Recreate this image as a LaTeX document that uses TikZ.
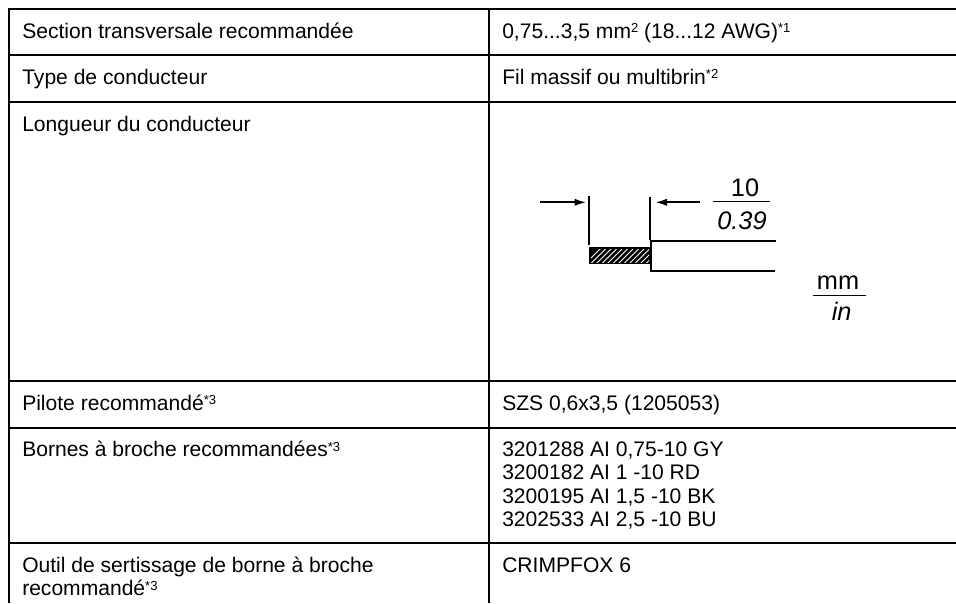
\documentclass[tikz,border=0pt]{standalone}
\usepackage{fontspec}
\setmainfont{Liberation Sans}
\usepackage{tikz}
\usetikzlibrary{arrows.meta,positioning}

\newcommand{\supr}[1]{\raisebox{4pt}{\fontsize{9.8pt}{10pt}\selectfont #1}}

\begin{document}
\begin{tikzpicture}[x=0.75pt,y=-0.75pt]
	\tikzstyle{Rule}	= [line width=1.5pt, black]
	\tikzstyle{Thin}	= [line width=0.75pt, black]
	\tikzstyle{Wire}	= [line width=1.5pt, black]
	\tikzstyle{Dim}		= [line width=1.5pt, black, -{Latex[length=9pt,width=5.5pt]}]
	\tikzstyle{Cell}	= [anchor=base west, inner sep=0pt, font=\fontsize{15.8pt}{17.55pt}\selectfont]
	\tikzstyle{Frac}	= [anchor=base, inner sep=0pt, font=\fontsize{19pt}{22pt}\selectfont]

	\useasboundingbox (0,0) rectangle (956,603);

	% table rules
	\draw [Rule] (7.7,9) -- (956,9);
	\draw [Rule] (7.7,55) -- (956,55);
	\draw [Rule] (7.7,101.7) -- (956,101.7);
	\draw [Rule] (7.7,380.7) -- (956,380.7);
	\draw [Rule] (7.7,427.7) -- (956,427.7);
	\draw [Rule] (7.7,542.7) -- (956,542.7);
	\draw [Rule] (8.5,8) -- (8.5,603);
	\draw [Rule] (488.7,8) -- (488.7,603);

	% left column
	\node (t1) at (22,38.3) [Cell] {Section transversale recommandée};
	\node (t2) at (22,84) [Cell] {Type de conducteur};
	\node (t3) at (22,131) [Cell] {Longueur du conducteur};
	\node (t4) at (22,410.3) [Cell] {Pilote recommandé\supr{*3}};
	\node (t5) at (22,456.5) [Cell] {Bornes à broche recommandées\supr{*3}};
	\node (t6) at (22,572) [Cell] {Outil de sertissage de borne à broche};
	\node (t7) at (22,595.4) [Cell] {recommandé\supr{*3}};

	% right column
	\node (v1) at (502,38.3) [Cell] {0,75...3,5 mm\supr{2} (18...12 AWG)\supr{*1}};
	\node (v2) at (502,84) [Cell] {Fil massif ou multibrin\supr{*2}};
	\node (v4) at (502,410.3) [Cell] {SZS 0,6x3,5 (1205053)};
	\node (v5) at (502,456.5) [Cell] {3201288 AI 0,75-10 GY};
	\node (v6) at (502,479.9) [Cell] {3200182 AI 1 -10 RD};
	\node (v7) at (502,503.3) [Cell] {3200195 AI 1,5 -10 BK};
	\node (v8) at (502,526.7) [Cell] {3202533 AI 2,5 -10 BU};
	\node (v9) at (502,572) [Cell] {CRIMPFOX 6};

	% stripped wire
	\coordinate (a1) at (540,202.3);
	\coordinate (a2) at (586.5,202.3);
	\coordinate (b1) at (700,202.3);
	\coordinate (b2) at (655,202.3);
	\coordinate (s1) at (588.7,196);
	\coordinate (s2) at (588.7,245);
	\coordinate (s3) at (650.3,197);
	\coordinate (s4) at (650.3,240);
	\coordinate (w1) at (776,240.7);
	\coordinate (w2) at (651,240.7);
	\coordinate (w3) at (651,270.7);
	\coordinate (w4) at (775,270.7);

	\fill [black] (589,247.3) rectangle (651,264);
	\begin{scope}
		\clip (591,249) rectangle (649,262.5);
		\foreach \hx in {585,590.5,...,655}
			\draw [white, line width=0.7pt] (\hx,264) -- (\hx+17,247);
	\end{scope}
	\draw [Dim] (a1) -- (a2);
	\draw [Dim] (b1) -- (b2);
	\draw [Wire] (s1) -- (s2);
	\draw [Wire] (s3) -- (s4);
	\draw [Wire] (w1) -- (w2) -- (w3) -- (w4);

	% dimension fractions
	\node (d1) at (745,196.7) [Frac] {10};
	\node (d2) at (742,229.3) [Frac] {\itshape 0.39};
	\draw [Thin] (713,201.7) -- (770,201.7);
	\node (u1) at (838,289.3) [Frac] {mm};
	\node (u2) at (841.7,320.7) [Frac] {\itshape in};
	\draw [Thin] (813.3,295.7) -- (866,295.7);
\end{tikzpicture}
\end{document}
